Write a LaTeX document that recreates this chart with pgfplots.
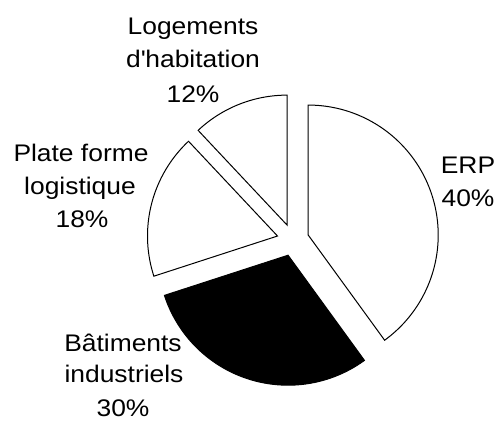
\documentclass[border=0pt]{standalone}
\usepackage{pgfplots}
\pgfplotsset{compat=1.18}
\usepackage{pgfplotstable}
\usepackage{fontspec}
\setmainfont{Liberation Sans}[FakeStretch=1.1]
% Pie data (percent)
\pgfplotstableread{
name value
ERP 40
Batiments 30
Plate 18
Logements 12
}\piedata
\def\cx{293}\def\cy{181}\def\R{130}\def\D{16}
% slice: #1 start angle, #2 end angle, #3 fill
\newcommand{\pieslice}[3]{%
  \addplot[draw=black, line width=1bp, fill=#3, domain=#1:#2, samples=90, variable=\t, line join=miter]
    ({\cx+\D*cos((#1+#2)/2)+\R*cos(\t)}, {\cy+\D*sin((#1+#2)/2)+\R*sin(\t)})
    -- (axis cs:{\cx+\D*cos((#1+#2)/2)},{\cy+\D*sin((#1+#2)/2)}) -- cycle;
}
\begin{document}
\begin{tikzpicture}[lbl/.style={font=\fontsize{24bp}{28bp}\selectfont, inner sep=0pt, anchor=base}]
\begin{axis}[
  width=497bp, height=421bp, scale only axis,
  xmin=0, xmax=497, ymin=0, ymax=421,
  hide axis, clip=false,
]
\path (axis cs:0,0) (axis cs:497,421);
% ERP 40% : 90 -> 90-144
\pieslice{-54}{90}{white}
% Batiments 30% : -54 -> -162
\pieslice{-162}{-54}{black}
% Plate forme 18% : -162 -> -226.8
\pieslice{-226.8}{-162}{white}
% Logements 12% : -226.8 -> -270
\pieslice{-270}{-226.8}{white}
% labels
\node[lbl] at (axis cs:193,{421-34.5}) {Logements};
\node[lbl] at (axis cs:193,{421-68}) {d\textquotesingle habitation};
\node[lbl] at (axis cs:193,{421-102.7}) {12\%};
\node[lbl] at (axis cs:81,{421-161.7}) {Plate forme};
\node[lbl] at (axis cs:80,{421-195}) {logistique};
\node[lbl] at (axis cs:82,{421-228}) {18\%};
\node[lbl] at (axis cs:468,{421-174}) {ERP};
\node[lbl] at (axis cs:468,{421-206.7}) {40\%};
\node[lbl] at (axis cs:123,{421-351.7}) {Bâtiments};
\node[lbl] at (axis cs:124,{421-383}) {industriels};
\node[lbl] at (axis cs:123,{421-416}) {30\%};
\end{axis}
\end{tikzpicture}
\end{document}
